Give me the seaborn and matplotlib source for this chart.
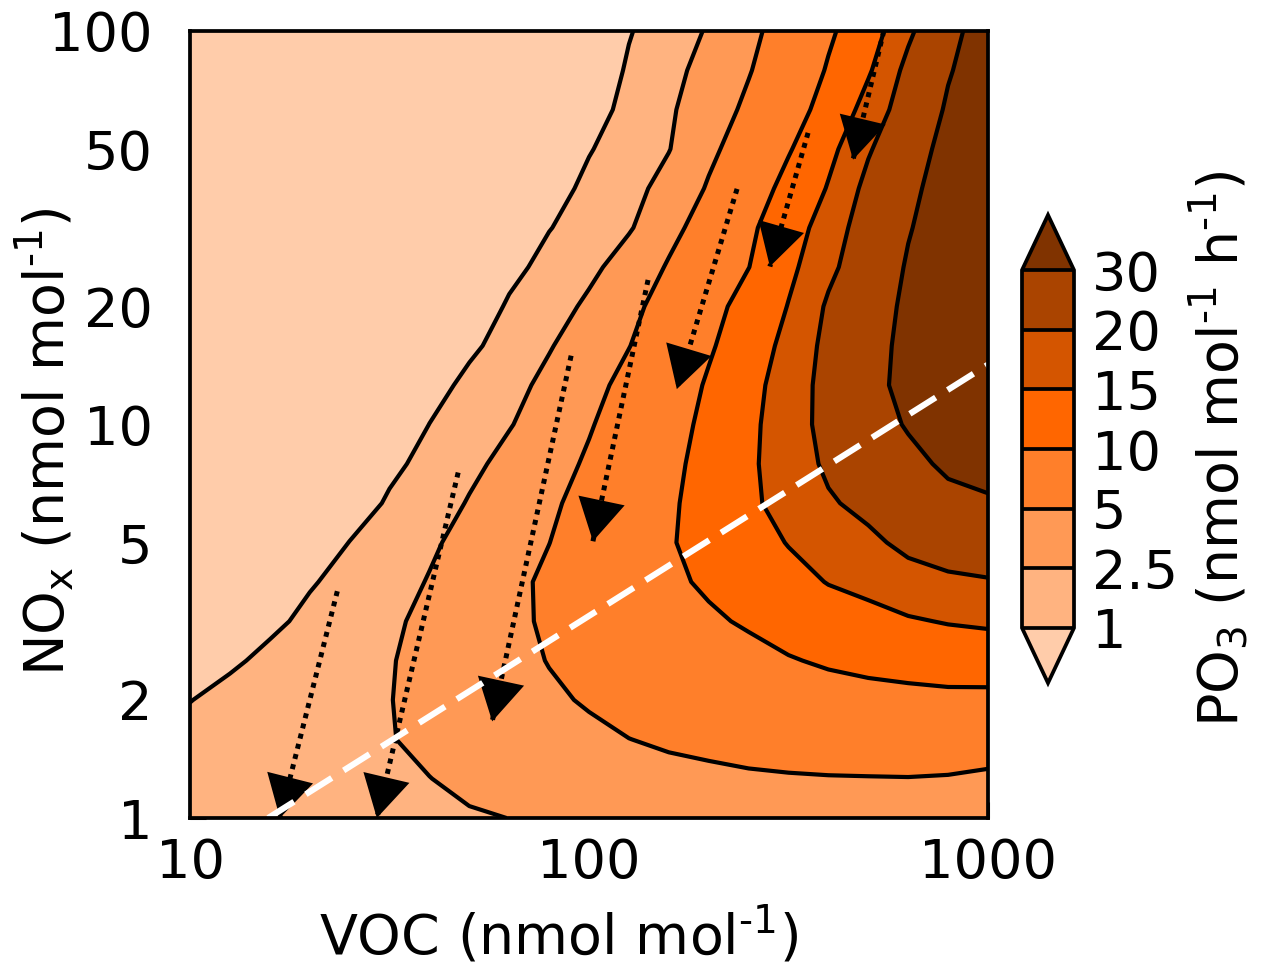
import numpy as np
import matplotlib
matplotlib.use("Agg")
import matplotlib.pyplot as plt
import seaborn as sns

# ---------------- data ----------------
# grid axes: log10 of VOC and NOx (nmol/mol)
voc_log = [1.0, 1.1, 1.2, 1.3, 1.4, 1.5, 1.6, 1.7, 1.8, 1.9, 2.0,
           2.1, 2.2, 2.3, 2.4, 2.5, 2.6, 2.7, 2.8, 2.9, 3.0]
nox_log = [0.0, 0.1, 0.2, 0.3, 0.4, 0.5, 0.6, 0.7, 0.8, 0.9, 1.0,
           1.1, 1.2, 1.3, 1.4, 1.5, 1.6, 1.7, 1.8, 1.9, 2.0]

# PO3 (nmol mol-1 h-1), one row per NOx value (bottom to top), one column per VOC value
po3 = [
    [1.5, 1.63, 1.76, 1.88, 2.0, 2.13, 2.26, 2.38, 2.51, 2.85, 3.15, 3.4, 3.65, 3.85, 4.0, 4.1, 4.2, 4.25, 4.3, 4.1, 3.8],
    [1.38, 1.56, 1.75, 1.93, 2.12, 2.30, 2.48, 2.81, 3.15, 3.50, 3.84, 4.2, 4.44, 4.58, 4.71, 4.80, 4.87, 4.90, 4.93, 4.83, 4.6],
    [1.25, 1.49, 1.73, 1.96, 2.20, 2.44, 2.83, 3.26, 3.70, 4.13, 4.57, 4.98, 5.31, 5.57, 5.93, 6.26, 6.54, 6.74, 6.86, 6.79, 6.35],
    [0.98, 1.27, 1.57, 1.87, 2.16, 2.46, 2.99, 3.56, 4.13, 4.69, 5.21, 5.81, 6.35, 6.90, 7.48, 8.01, 8.47, 8.79, 8.97, 9.12, 9.05],
    [0.46, 0.85, 1.24, 1.63, 2.02, 2.41, 3.02, 3.70, 4.39, 5.08, 5.85, 6.62, 7.38, 8.22, 9.04, 9.76, 10.50, 11.07, 11.55, 12.01, 12.24],
    [0.1, 0.28, 0.77, 1.27, 1.76, 2.25, 2.90, 3.69, 4.48, 5.36, 6.41, 7.45, 8.49, 9.55, 10.4, 11.65, 12.85, 13.67, 14.58, 15.29, 15.76],
    [0.1, 0.1, 0.34, 0.89, 1.44, 2.00, 2.58, 3.49, 4.41, 5.46, 6.79, 8.11, 9.43, 10.5, 11.9, 13.58, 15.19, 16.29, 18.03, 18.97, 19.55],
    [0.1, 0.1, 0.1, 0.41, 1.02, 1.64, 2.26, 3.08, 4.02, 4.97, 6.56, 8.18, 9.79, 11.0, 13.2, 15.21, 17.31, 18.92, 21.40, 23.21, 24.19],
    [0.1, 0.1, 0.1, 0.1, 0.44, 1.15, 1.86, 2.60, 3.58, 4.57, 6.00, 7.79, 9.57, 11.3, 14.3, 16.5, 19.43, 21.55, 24.59, 27.68, 28.95],
    [0.1, 0.1, 0.1, 0.1, 0.1, 0.71, 1.42, 2.13, 3.01, 4.10, 5.34, 7.25, 9.16, 11.3, 14.3, 17.3, 21.0, 24.3, 27.77, 31.6, 33.5],
    [0.1, 0.1, 0.1, 0.1, 0.1, 0.32, 1.01, 1.70, 2.39, 3.53, 4.77, 6.63, 8.63, 10.96, 13.98, 17.64, 21.84, 26.32, 30.8, 35.0, 38.0],
    [0.1, 0.1, 0.1, 0.1, 0.1, 0.1, 0.58, 1.30, 2.02, 2.93, 4.21, 5.84, 8.07, 10.41, 13.53, 17.28, 21.99, 27.37, 32.74, 38.1, 40.0],
    [0.1, 0.1, 0.1, 0.1, 0.1, 0.1, 0.1, 0.75, 1.56, 2.37, 3.61, 4.92, 7.19, 9.51, 12.60, 16.39, 21.61, 26.99, 32.37, 37.74, 40.0],
    [0.1, 0.1, 0.1, 0.1, 0.1, 0.1, 0.1, 0.37, 1.13, 1.89, 2.78, 4.28, 6.26, 8.69, 11.61, 15.17, 20.77, 26.23, 31.69, 37.16, 40.0],
    [0.1, 0.1, 0.1, 0.1, 0.1, 0.1, 0.1, 0.1, 0.68, 1.39, 2.10, 3.33, 5.26, 7.59, 9.93, 13.94, 18.59, 24.49, 30.82, 37.15, 40.0],
    [0.1, 0.1, 0.1, 0.1, 0.1, 0.1, 0.1, 0.1, 0.27, 0.95, 1.64, 2.32, 4.09, 6.56, 9.25, 12.79, 17.29, 23.08, 29.37, 35.66, 40.0],
    [0.1, 0.1, 0.1, 0.1, 0.1, 0.1, 0.1, 0.1, 0.1, 0.56, 1.28, 1.99, 3.11, 5.28, 8.07, 11.23, 15.32, 21.65, 27.97, 34.30, 40.0],
    [0.1, 0.1, 0.1, 0.1, 0.1, 0.1, 0.1, 0.1, 0.1, 0.17, 0.92, 1.68, 2.43, 4.32, 6.85, 9.66, 13.70, 19.37, 26.12, 32.93, 39.7],
    [0.1, 0.1, 0.1, 0.1, 0.1, 0.1, 0.1, 0.1, 0.1, 0.1, 0.50, 1.38, 2.25, 3.70, 5.58, 8.23, 11.65, 16.79, 23.25, 31.19, 39.1],
    [0.1, 0.1, 0.1, 0.1, 0.1, 0.1, 0.1, 0.1, 0.1, 0.1, 0.28, 1.14, 1.99, 3.17, 4.80, 7.44, 10.33, 14.43, 21.59, 29.17, 36.74],
    [0.1, 0.1, 0.1, 0.1, 0.1, 0.1, 0.1, 0.1, 0.1, 0.1, 0.1, 0.92, 1.75, 2.65, 4.26, 6.53, 9.38, 12.79, 18.8, 27.15, 35.28],
]

levels = [1, 2.5, 5, 10, 15, 20, 30]
level_labels = ["1", "2.5", "5", "10", "15", "20", "30"]
band_colors = ["#ffccaa", "#ffb380", "#ff9955", "#ff7f2a",
               "#ff6600", "#d45500", "#aa4400", "#803300"]

# arrows (tail -> tip)
arrow_tail_voc = [23.4, 47.0, 90.2, 140.6, 235.0, 354.0, 548.0]
arrow_tail_nox = [3.77, 7.55, 14.96, 23.3, 39.7, 55.1, 100.0]
arrow_tip_voc = [16.8, 29.4, 57.2, 102.3, 166.0, 284.0, 459.0]
arrow_tip_nox = [1.0, 1.0, 1.76, 5.05, 12.3, 25.2, 47.1]

# white dashed ridge line
ridge_voc = [15.7, 1000.0]
ridge_nox = [1.0, 14.2]

xticks = [10, 20, 50, 100, 200, 500, 1000]
xticklabels = ["10", "", "", "100", "", "", "1000"]
yticks = [1, 2, 5, 10, 20, 50, 100]
yticklabels = ["1", "2", "5", "10", "20", "50", "100"]

HY = "\u2010"  # plain hyphen for the "-1" exponents
xlabel_text = "VOC (nmol mol$^{" + HY + "1}$)"
ylabel_text = "NO$_\\mathrm{x}$ (nmol mol$^{" + HY + "1}$)"
cbar_label_text = "PO$_3$ (nmol mol$^{" + HY + "1}$ h$^{" + HY + "1}$)"

# ---------------- style ----------------
sns.set_style("ticks", rc={"axes.edgecolor": "black", "text.color": "black",
                           "xtick.color": "black", "ytick.color": "black",
                           "axes.labelcolor": "black"})
plt.rcParams["font.family"] = ["DejaVu Sans"]
plt.rcParams["mathtext.fontset"] = "dejavusans"

W, H = 1261, 963
fig = plt.figure(figsize=(W / 100, H / 100), dpi=100)
ax = fig.add_axes([190 / W, (H - 818) / H, (988 - 190) / W, (818 - 31) / H])
cax = fig.add_axes([1022 / W, (H - 683) / H, 52 / W, (683 - 215) / H])

voc = 10 ** np.array(voc_log)
nox = 10 ** np.array(nox_log)
Z = np.array(po3)

cf = ax.contourf(voc, nox, Z, levels=levels, colors=band_colors, extend="both", zorder=1)
ax.contour(voc, nox, Z, levels=levels, colors="k", linewidths=3.0, zorder=2)

ax.set_xscale("log")
ax.set_yscale("log")
ax.set_xlim(10, 1000)
ax.set_ylim(1, 100)
ax.set_xticks(xticks)
ax.set_xticklabels(xticklabels)
ax.set_yticks(yticks)
ax.set_yticklabels(yticklabels)
ax.minorticks_off()
ax.tick_params(direction="in", length=11.5, width=2.2, labelsize=39,
               top=False, right=False)
ax.tick_params(axis="y", pad=27)
ax.tick_params(axis="x", pad=14)
for sp in ax.spines.values():
    sp.set_linewidth(2.7)
    sp.set_zorder(6)

# arrows: dotted shaft + solid filled head
for tv, tn, hv, hn in zip(arrow_tail_voc, arrow_tail_nox, arrow_tip_voc, arrow_tip_nox):
    ax.plot([tv, hv], [tn, hn], color="k", lw=3.6, linestyle=(0, (1, 1.1)),
            dash_capstyle="butt", zorder=3, clip_on=False)
    ax.annotate("", xy=(hv, hn), xytext=(tv, tn),
                arrowprops=dict(arrowstyle="-|>,head_length=1.5,head_width=0.85",
                                mutation_scale=20, lw=0, color="k",
                                shrinkA=0, shrinkB=0),
                annotation_clip=False, zorder=4)

ax.plot(ridge_voc, ridge_nox, color="white", lw=4.4, dashes=(5, 2.3),
        dash_capstyle="butt", zorder=5, clip_on=True)

ax.set_xlabel(xlabel_text, fontsize=40)
ax.xaxis.set_label_coords((559 - 190) / 798, (818 - 903) / 787)
ax.set_ylabel(ylabel_text, fontsize=40)
ax.yaxis.set_label_coords((76 - 190) / 798, (818 - 442) / 787)

cb = fig.colorbar(cf, cax=cax, extendfrac=0.154, drawedges=True)
cb.set_ticks(levels)
cb.set_ticklabels(level_labels)
cb.ax.tick_params(length=0, labelsize=39, pad=13)
cb.outline.set_linewidth(2.7)
cb.dividers.set_linewidth(2.7)
cb.dividers.set_color("k")
cb.set_label(cbar_label_text, fontsize=40, labelpad=6)

fig.savefig("out.png", dpi=100)
